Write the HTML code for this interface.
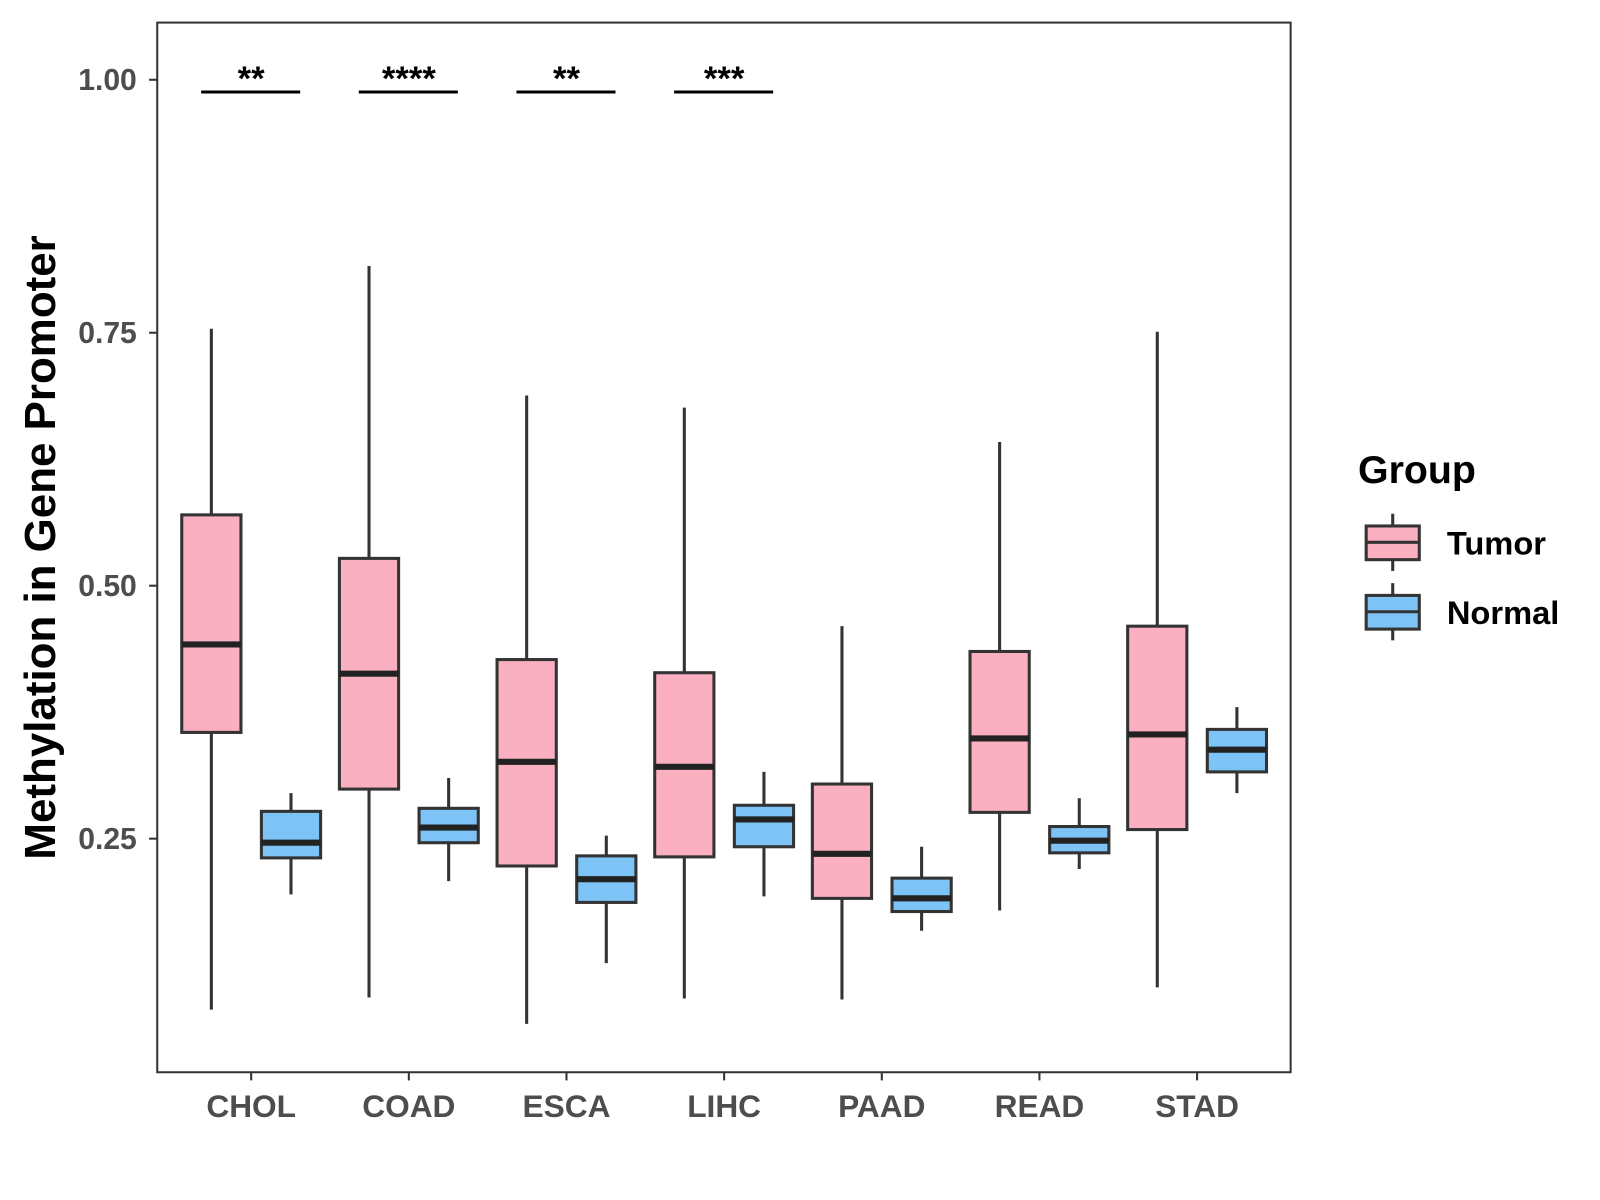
<!DOCTYPE html>
<html><head><meta charset="utf-8"><style>
html,body{margin:0;padding:0;background:#fff;}
svg{display:block;font-family:"Liberation Sans",Arial,sans-serif;}
</style></head><body>
<svg id="chart" width="1600" height="1200" viewBox="0 0 1567 1175">
<rect x="154" y="22" width="1110" height="1028" fill="#fff" stroke="#333" stroke-width="2"/>
<g id="marks"></g>
<text x="0" y="0" transform="translate(54,536) rotate(-90)" text-anchor="middle" font-size="43" font-weight="bold" fill="#000">Methylation in Gene Promoter</text>
<g>
<text x="1330" y="473" font-size="38.5" font-weight="bold">Group</text>
<g>
<line x1="1364" y1="503" x2="1364" y2="559" stroke="#333" stroke-width="3"/>
<rect x="1338" y="515" width="52" height="33" fill="#FBB0C2" stroke="#333" stroke-width="3"/>
<line x1="1338" y1="531" x2="1390" y2="531" stroke="#333" stroke-width="3"/>
<text x="1417" y="543" font-size="32" font-weight="bold">Tumor</text>
</g>
<g>
<line x1="1364" y1="571" x2="1364" y2="627" stroke="#333" stroke-width="3"/>
<rect x="1338" y="583" width="52" height="33" fill="#7DC3F6" stroke="#333" stroke-width="3"/>
<line x1="1338" y1="599" x2="1390" y2="599" stroke="#333" stroke-width="3"/>
<text x="1417" y="611" font-size="32" font-weight="bold">Normal</text>
</g>
</g>
</svg>
<script>
const categories=["CHOL","COAD","ESCA","LIHC","PAAD","READ","STAD"];
const tumorMin=[0.081,0.093,0.067,0.092,0.091,0.179,0.103];
const tumorQ1=[0.355,0.299,0.223,0.232,0.191,0.276,0.259];
const tumorMed=[0.442,0.413,0.326,0.321,0.235,0.349,0.353];
const tumorQ3=[0.570,0.527,0.427,0.414,0.304,0.435,0.460];
const tumorMax=[0.754,0.816,0.688,0.676,0.460,0.642,0.751];
const normalMin=[0.195,0.208,0.127,0.193,0.159,0.220,0.295];
const normalQ1=[0.231,0.246,0.187,0.242,0.178,0.236,0.316];
const normalMed=[0.246,0.261,0.210,0.269,0.191,0.248,0.338];
const normalQ3=[0.277,0.280,0.233,0.283,0.211,0.262,0.358];
const normalMax=[0.295,0.310,0.253,0.316,0.242,0.290,0.380];
const signif=["**","****","**","***","","",""];
const yTicks=[0.25,0.50,0.75,1.00];
const yTickLabels=["0.25","0.50","0.75","1.00"];

const NS="http://www.w3.org/2000/svg";
const g=document.getElementById("marks");
function y(v){return 78+(1-v)*991;}
function x(i){return 246+i*154.4;}
function el(tag,attrs,parent){const e=document.createElementNS(NS,tag);for(const k in attrs)e.setAttribute(k,attrs[k]);(parent||g).appendChild(e);return e;}

yTicks.forEach((t,i)=>{
  const l=el("line",{x1:146,x2:154,y1:y(t),y2:y(t),stroke:"#333","stroke-width":2});
  
  
  const tx=el("text",{x:134,y:y(t)+10,"text-anchor":"end","font-size":29.5,"font-weight":"bold",fill:"#4d4d4d"});
  tx.textContent=yTickLabels[i];
  
  
});
categories.forEach((c,i)=>{
  const cx=x(i);
  const l=el("line",{x1:cx,x2:cx,y1:1050,y2:1058,stroke:"#333","stroke-width":2});
  
  
  const tx=el("text",{x:cx,y:1094,"text-anchor":"middle","font-size":31,"font-weight":"bold",fill:"#4d4d4d"});
  tx.textContent=c;
  
  
  const groups=[[cx-39,"#FBB0C2",tumorMin,tumorQ1,tumorMed,tumorQ3,tumorMax,"tumor"],[cx+39,"#7DC3F6",normalMin,normalQ1,normalMed,normalQ3,normalMax,"normal"]];
  groups.forEach(([bx,fill,mn,q1,md,q3,mx,nm])=>{
    const bg=el("g",{});
    
    
    el("line",{x1:bx,x2:bx,y1:y(mx[i]),y2:y(mn[i]),stroke:"#333","stroke-width":3},bg);
    el("rect",{x:bx-29,y:y(q3[i]),width:58,height:y(q1[i])-y(q3[i]),fill:fill,stroke:"#333","stroke-width":3},bg);
    el("line",{x1:bx-29,x2:bx+29,y1:y(md[i]),y2:y(md[i]),stroke:"#222","stroke-width":6},bg);
  });
  if(signif[i]){
    const sg=el("g",{});
    
    
    el("line",{x1:cx-49,x2:cx+48,y1:90,y2:90,stroke:"#000","stroke-width":3},sg);
    const st=el("text",{x:cx,y:88,"text-anchor":"middle","font-size":34,"font-weight":"bold",fill:"#000"},sg);
    st.textContent=signif[i];
  }
});
</script>
</body></html>
